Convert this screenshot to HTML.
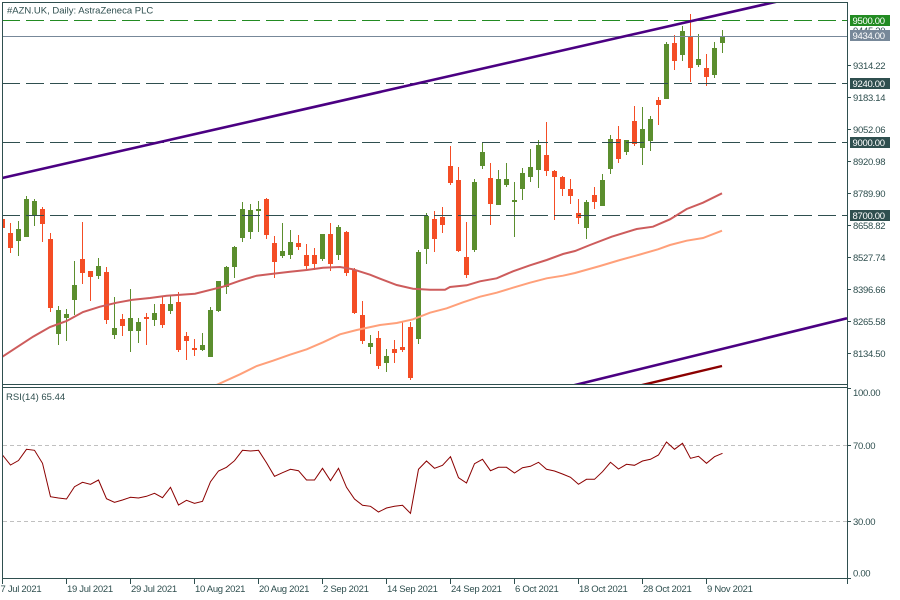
<!DOCTYPE html>
<html><head><meta charset="utf-8"><style>
html,body{margin:0;padding:0;background:#fff;}
svg{display:block;}
text{font-family:"Liberation Sans",sans-serif;fill:#2f4f4f;}
.ax{font-size:9.5px;letter-spacing:-0.3px;}
.wt{fill:#fff;}
</style></head><body>
<svg width="900" height="600" viewBox="0 0 900 600" xmlns="http://www.w3.org/2000/svg">
<defs>
<clipPath id="mc"><rect x="3" y="3" width="844" height="381"/></clipPath>
<clipPath id="rc"><rect x="3" y="388" width="844" height="190"/></clipPath>
</defs>
<rect width="900" height="600" fill="#fff"/>

<g clip-path="url(#mc)">
<!-- red wicks -->
<path fill="none" stroke="#f44d25" stroke-width="1" d="M10.5 223V253M42.5 207V242M50.5 233V312M82.5 222V284M90.5 271V301M106.5 267V324M122.5 314V336M146.5 313V345M162.5 297V328M178.5 292V352M186.5 332V360M194.5 339V356M266.5 198V239M274.5 236V278M298.5 235V250M306.5 244V269M314.5 248V270M330.5 223V271M346.5 231V276M354.5 268V314M362.5 301V344M378.5 331V369M394.5 340V363M402.5 322V352M410.5 322V380M434.5 211V252M442.5 207V233M450.5 146V185M458.5 167V252M466.5 222V278M490.5 163V225M546.5 122V176M554.5 170V220M562.5 176V196M570.5 179V204M578.5 199V224M594.5 187V209M618.5 126V163M634.5 106V146M658.5 97V125M674.5 35V70M690.5 14V82M706.5 54V86"/>
<!-- green wicks -->
<path fill="none" stroke="#5b8e2e" stroke-width="1" d="M18.5 221V256M26.5 196V237M34.5 199V226M58.5 306V345M66.5 309V341M74.5 261V315M98.5 258V279M114.5 297V339M130.5 289V352M138.5 318V343M154.5 304V326M170.5 296V314M202.5 333V351M210.5 307V357M218.5 281V312M226.5 266V294M234.5 246V278M242.5 202V242M250.5 204V239M258.5 201V232M282.5 223V258M290.5 230V259M322.5 234V261M338.5 225V260M370.5 335V354M386.5 349V372M418.5 250V344M426.5 213V264M474.5 179V252M482.5 142V169M498.5 170V205M506.5 163V187M514.5 182V237M522.5 168V200M530.5 149V182M538.5 140V188M586.5 200V239M602.5 174V206M610.5 135V174M626.5 140V155M642.5 107V165M650.5 116V151M666.5 42V99M682.5 26V61M698.5 34V67M714.5 42V78M722.5 30V53"/>
<!-- red bodies -->
<g fill="#f44d25">
<rect x="0" y="219" width="5" height="9"/><rect x="8" y="233" width="5" height="15"/><rect x="40" y="209" width="5" height="15"/><rect x="48" y="239" width="5" height="69"/><rect x="80" y="259" width="5" height="14"/><rect x="88" y="271" width="5" height="6"/><rect x="104" y="272" width="5" height="48"/><rect x="120" y="319" width="5" height="7"/><rect x="144" y="317" width="5" height="2"/><rect x="160" y="304" width="5" height="21"/><rect x="176" y="302" width="5" height="48"/><rect x="184" y="336" width="5" height="5"/><rect x="192" y="348" width="5" height="2"/><rect x="264" y="199" width="5" height="36"/><rect x="272" y="243" width="5" height="19"/><rect x="296" y="243" width="5" height="4"/><rect x="304" y="255" width="5" height="11"/><rect x="312" y="255" width="5" height="9"/><rect x="328" y="234" width="5" height="30"/><rect x="344" y="232" width="5" height="41"/><rect x="352" y="270" width="5" height="43"/><rect x="360" y="315" width="5" height="26"/><rect x="376" y="338" width="5" height="28"/><rect x="392" y="349" width="5" height="4"/><rect x="400" y="347" width="5" height="3"/><rect x="408" y="327" width="5" height="51"/><rect x="432" y="219" width="5" height="20"/><rect x="440" y="217" width="5" height="8"/><rect x="448" y="166" width="5" height="17"/><rect x="456" y="180" width="5" height="71"/><rect x="464" y="257" width="5" height="18"/><rect x="488" y="178" width="5" height="26"/><rect x="544" y="155" width="5" height="16"/><rect x="552" y="171" width="5" height="6"/><rect x="560" y="177" width="5" height="12"/><rect x="568" y="189" width="5" height="7"/><rect x="576" y="213" width="5" height="5"/><rect x="592" y="195" width="5" height="7"/><rect x="616" y="139" width="5" height="20"/><rect x="632" y="121" width="5" height="23"/><rect x="656" y="100" width="5" height="5"/><rect x="672" y="43" width="5" height="18"/><rect x="688" y="37" width="5" height="31"/><rect x="704" y="68" width="5" height="9"/>
</g>
<!-- green bodies -->
<g fill="#5b8e2e">
<rect x="16" y="229" width="5" height="12"/><rect x="24" y="199" width="5" height="38"/><rect x="32" y="201" width="5" height="14"/><rect x="56" y="310" width="5" height="24"/><rect x="64" y="314" width="5" height="4"/><rect x="72" y="285" width="5" height="15"/><rect x="96" y="266" width="5" height="10"/><rect x="112" y="328" width="5" height="7"/><rect x="128" y="318" width="5" height="13"/><rect x="136" y="322" width="5" height="9"/><rect x="152" y="313" width="5" height="7"/><rect x="168" y="304" width="5" height="7"/><rect x="200" y="345" width="5" height="5"/><rect x="208" y="310" width="5" height="47"/><rect x="216" y="281" width="5" height="30"/><rect x="224" y="267" width="5" height="20"/><rect x="232" y="247" width="5" height="20"/><rect x="240" y="209" width="5" height="29"/><rect x="248" y="210" width="5" height="22"/><rect x="256" y="209" width="5" height="2"/><rect x="280" y="251" width="5" height="5"/><rect x="288" y="242" width="5" height="13"/><rect x="320" y="234" width="5" height="25"/><rect x="336" y="227" width="5" height="28"/><rect x="368" y="343" width="5" height="4"/><rect x="384" y="356" width="5" height="7"/><rect x="416" y="252" width="5" height="87"/><rect x="424" y="216" width="5" height="33"/><rect x="472" y="182" width="5" height="68"/><rect x="480" y="152" width="5" height="14"/><rect x="496" y="179" width="5" height="26"/><rect x="504" y="179" width="5" height="6"/><rect x="512" y="200" width="5" height="2"/><rect x="520" y="173" width="5" height="16"/><rect x="528" y="167" width="5" height="10"/><rect x="536" y="145" width="5" height="25"/><rect x="584" y="202" width="5" height="26"/><rect x="600" y="180" width="5" height="26"/><rect x="608" y="139" width="5" height="30"/><rect x="624" y="140" width="5" height="12"/><rect x="640" y="129" width="5" height="19"/><rect x="648" y="119" width="5" height="22"/><rect x="664" y="44" width="5" height="55"/><rect x="680" y="31" width="5" height="24"/><rect x="696" y="59" width="5" height="6"/><rect x="712" y="48" width="5" height="27"/><rect x="720" y="36" width="5" height="7"/>
</g>

<!-- horizontal levels -->
<line x1="2" y1="20.5" x2="847" y2="20.5" stroke="#228b22" stroke-width="1" stroke-dasharray="18 6"/>
<line x1="2" y1="36.5" x2="847" y2="36.5" stroke="#778899" stroke-width="1"/>
<line x1="2" y1="83.5" x2="847" y2="83.5" stroke="#2f4f4f" stroke-width="1" stroke-dasharray="18 6"/>
<line x1="2" y1="142.5" x2="847" y2="142.5" stroke="#2f4f4f" stroke-width="1" stroke-dasharray="18 6"/>
<line x1="2" y1="215.5" x2="847" y2="215.5" stroke="#2f4f4f" stroke-width="1" stroke-dasharray="18 6"/>

<!-- MA50 -->
<polyline fill="none" stroke="#cd5c5c" stroke-width="2" points="2,357 33,336.7 50,327 66.7,321 83,312 100,306.7 116.7,302.7 133,299.7 150,298 166.7,295.7 195,293.7 223,286.7 240,280.7 256.7,275.7 273,273.7 290,271.7 306.7,270 323,267.7 340,267 353,269.3 370,274.7 380,278.7 396.7,285 413,288.7 430,289.7 445,289.7 450,287 466.7,285.3 480,281.3 496.7,278.3 513,271.3 530,265.3 546.7,260 563,254 575,251 590,245 611.7,236.7 636.7,229 653,226.7 670,219.3 686.7,209 703,202.7 722,193.3"/>
<!-- MA100 -->
<polyline fill="none" stroke="#ffa07a" stroke-width="2" points="212,387 218,384.3 240,374.3 256.7,366 273,360.7 290,354.7 306.7,349.3 323,342.3 340,334.3 356.7,330 380,325 396.7,323 413,319.3 430,312.7 446.7,308.3 463,302.3 480,296.7 496.7,292.7 513,287.7 530,282.7 546.7,278.3 563,275.7 575,273 600,266 620,260 640,254.5 658,249.3 670,245 686.7,240.7 703,238 722,230.7"/>

<!-- trend lines -->
<line x1="2" y1="178" x2="780" y2="0.9" stroke="#4b0082" stroke-width="2.6"/>
<line x1="573" y1="385.5" x2="847" y2="318.3" stroke="#4b0082" stroke-width="2.6"/>
<line x1="638" y1="386" x2="722" y2="366" stroke="#8b0000" stroke-width="2.4"/>
</g>

<!-- RSI levels -->
<g clip-path="url(#rc)">
<line x1="3" y1="445.5" x2="847" y2="445.5" stroke="#c0c0c0" stroke-width="1" stroke-dasharray="4 3"/>
<line x1="3" y1="521.5" x2="847" y2="521.5" stroke="#c0c0c0" stroke-width="1" stroke-dasharray="4 3"/>
<polyline fill="none" stroke="#8b0000" stroke-width="1" points="2.5,455 10.5,465 18.5,460.5 26.5,449.3 34.5,450.3 42.5,463.3 50.5,496.7 58.5,498 66.5,499 74.5,486.7 82.5,482.3 90.5,484.3 98.5,480 106.5,498.7 114.5,502.3 122.5,500 130.5,497.3 138.5,498 146.5,496.3 154.5,493.3 162.5,497.7 170.5,487.3 178.5,505 186.5,500.3 194.5,503.3 202.5,501.3 210.5,481.7 218.5,471 226.5,467.3 234.5,460.7 242.5,450.3 250.5,451 258.5,450.3 266.5,462.7 274.5,476.3 282.5,472.7 290.5,469.3 298.5,470.7 306.5,480 314.5,480 322.5,468.3 330.5,480.7 338.5,468.3 346.5,487.3 354.5,499 362.5,505.3 370.5,506.3 378.5,512 386.5,508 394.5,506.3 402.5,505.3 410.5,513.3 418.5,469.3 426.5,461 434.5,468.3 442.5,465.3 450.5,456.7 458.5,477.7 466.5,483 474.5,463.7 482.5,459.3 490.5,470.7 498.5,467.3 506.5,467.3 514.5,473 522.5,467.7 530.5,466.3 538.5,462.3 546.5,469.3 554.5,471 562.5,474 570.5,477.3 578.5,484.3 586.5,479.3 594.5,479.3 602.5,471.7 610.5,462.3 618.5,469 626.5,464.3 634.5,465.3 642.5,461 650.5,459.3 658.5,455 666.5,442 674.5,449.3 682.5,443.3 690.5,458.3 698.5,456.3 706.5,463.3 714.5,456.7 722.5,453.3"/>
</g>

<!-- frames -->
<g fill="none" stroke="#2f4f4f" stroke-width="1">
<line x1="2.5" y1="2" x2="2.5" y2="579"/>
<line x1="2" y1="2.5" x2="848" y2="2.5"/>
<line x1="847.5" y1="2" x2="847.5" y2="584"/>
<line x1="2" y1="384.5" x2="848" y2="384.5"/>
<line x1="2" y1="387.5" x2="848" y2="387.5"/>
<line x1="2" y1="578.5" x2="848" y2="578.5"/>
<!-- price ticks -->
<path d="M847 65.5h4M847 97.5h4M847 129.5h4M847 161.5h4M847 193.5h4M847 225.5h4M847 257.5h4M847 289.5h4M847 321.5h4M847 353.5h4M847 388.5h4M847 445.5h4M847 521.5h4M847 578.5h4"/>
<!-- time ticks -->
<path d="M2.5 579v5M66.5 579v5M130.5 579v5M194.5 579v5M258.5 579v5M322.5 579v5M386.5 579v5M450.5 579v5M514.5 579v5M578.5 579v5M642.5 579v5M706.5 579v5"/>
</g>

<!-- title -->
<text x="7" y="13.5" style="font-size:9.5px">#AZN.UK, Daily:  AstraZeneca PLC</text>
<text x="6" y="400" style="font-size:9.5px">RSI(14) 65.44</text>

<!-- price labels -->
<g class="ax">
<text x="853" y="34">9445.30</text>
<text x="853" y="69">9314.22</text>
<text x="853" y="101">9183.14</text>
<text x="853" y="133">9052.06</text>
<text x="853" y="165">8920.98</text>
<text x="853" y="197">8789.90</text>
<text x="853" y="229">8658.82</text>
<text x="853" y="261">8527.74</text>
<text x="853" y="293">8396.66</text>
<text x="853" y="325">8265.58</text>
<text x="853" y="357">8134.50</text>
<text x="853" y="396">100.00</text>
<text x="853" y="449">70.00</text>
<text x="853" y="525">30.00</text>
<text x="853" y="576.5">0.00</text>
</g>

<!-- level boxes -->
<rect x="850" y="15" width="40" height="11" fill="#228b22"/>
<rect x="850" y="30" width="40" height="11" fill="#778899"/>
<rect x="850" y="78" width="40" height="11" fill="#2f4f4f"/>
<rect x="850" y="137" width="40" height="11" fill="#2f4f4f"/>
<rect x="850" y="210" width="40" height="11" fill="#2f4f4f"/>
<g class="ax">
<text class="wt" x="852.5" y="24">9500.00</text>
<text class="wt" x="852.5" y="39">9434.00</text>
<text class="wt" x="852.5" y="87">9240.00</text>
<text class="wt" x="852.5" y="146">9000.00</text>
<text class="wt" x="852.5" y="219">8700.00</text>
</g>

<!-- date labels -->
<g class="ax">
<text x="0.5" y="592">7 Jul 2021</text>
<text x="67" y="592">19 Jul 2021</text>
<text x="131" y="592">29 Jul 2021</text>
<text x="195" y="592">10 Aug 2021</text>
<text x="259" y="592">20 Aug 2021</text>
<text x="323" y="592">2 Sep 2021</text>
<text x="387" y="592">14 Sep 2021</text>
<text x="451" y="592">24 Sep 2021</text>
<text x="515" y="592">6 Oct 2021</text>
<text x="579" y="592">18 Oct 2021</text>
<text x="643" y="592">28 Oct 2021</text>
<text x="707" y="592">9 Nov 2021</text>
</g>
</svg>
</body></html>
